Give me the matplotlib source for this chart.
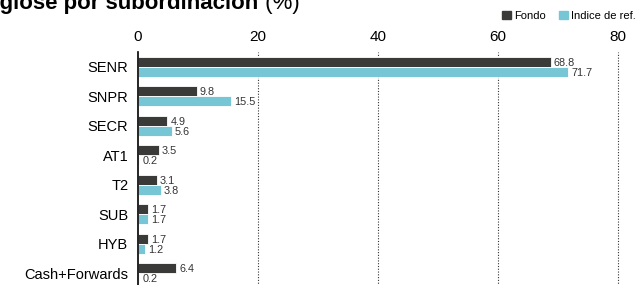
import matplotlib
matplotlib.use("Agg")
import matplotlib.pyplot as plt
from matplotlib.patches import Patch
import numpy as np

categorias = ["SENR", "SNPR", "SECR", "AT1", "T2", "SUB", "HYB", "Cash+Forwards"]
fondo = [68.8, 9.8, 4.9, 3.5, 3.1, 1.7, 1.7, 6.4]
indice = [71.7, 15.5, 5.6, 0.2, 3.8, 1.7, 1.2, 0.2]
ticks_x = [0, 20, 40, 60, 80]

c_fondo = "#3a3b39"
c_indice = "#76c6d5"

plt.rcParams["font.family"] = ["Liberation Sans", "DejaVu Sans"]

fig = plt.figure(figsize=(6.37, 2.85), dpi=100)
ax = fig.add_axes([138 / 637, -3 / 285, 492 / 637, 236 / 285])

y = np.arange(len(categorias))
h = 0.34
b1 = ax.barh(y - h / 2, fondo, height=h, color=c_fondo, edgecolor="white", linewidth=0.6)
b2 = ax.barh(y + h / 2, indice, height=h, color=c_indice, edgecolor="white", linewidth=0.6)

for bars, vals in ((b1, fondo), (b2, indice)):
    for r, v in zip(bars, vals):
        ax.text(v + 0.5, r.get_y() + r.get_height() / 2 + 0.03, f"{v:.1f}",
                va="center", ha="left", fontsize=7.8, color="#333333")

ax.set_xlim(0, 82)
ax.set_ylim(len(categorias) - 0.5, -0.5)
ax.set_yticks(y)
ax.set_yticklabels(categorias, fontsize=10.5)
ax.set_xticks(ticks_x)
ax.set_xticklabels([str(t) for t in ticks_x], fontsize=11)
ax.xaxis.tick_top()
ax.tick_params(axis="x", length=0, pad=6)
ax.tick_params(axis="y", length=0, pad=7)

for t in ticks_x[1:]:
    ax.axvline(t, color="#333333", linestyle=(0, (1, 1.5)), linewidth=0.8, zorder=0)

for s in ["top", "right", "bottom"]:
    ax.spines[s].set_visible(False)
ax.spines["left"].set_color("black")
ax.spines["left"].set_linewidth(1.2)

# title, cut at the top like the original
fig.canvas.draw()
r = fig.canvas.get_renderer()
tmp = fig.text(0, 0, "Des", fontsize=16, fontweight="bold")
w = tmp.get_window_extent(r).width
tmp.remove()
t1 = fig.text(-w / 637, 1 - 9 / 285, "Desglose por subordinación", fontsize=16,
              fontweight="bold", va="baseline", ha="left")
fig.canvas.draw()
w1 = t1.get_window_extent(r).x1
fig.text(w1 / 637, 1 - 9 / 285, " (%)", fontsize=16, va="baseline", ha="left")

handles = [Patch(color=c_fondo, label="Fondo"), Patch(color=c_indice, label="Indice de ref.")]
fig.legend(handles=handles, loc="center right", bbox_to_anchor=(1.0, 1 - 16 / 285),
           ncol=2, frameon=False, fontsize=8, handlelength=0.8, handleheight=0.8,
           handletextpad=0.3, columnspacing=1.2, borderaxespad=0, borderpad=0.1)

fig.savefig("out.png", dpi=100)
